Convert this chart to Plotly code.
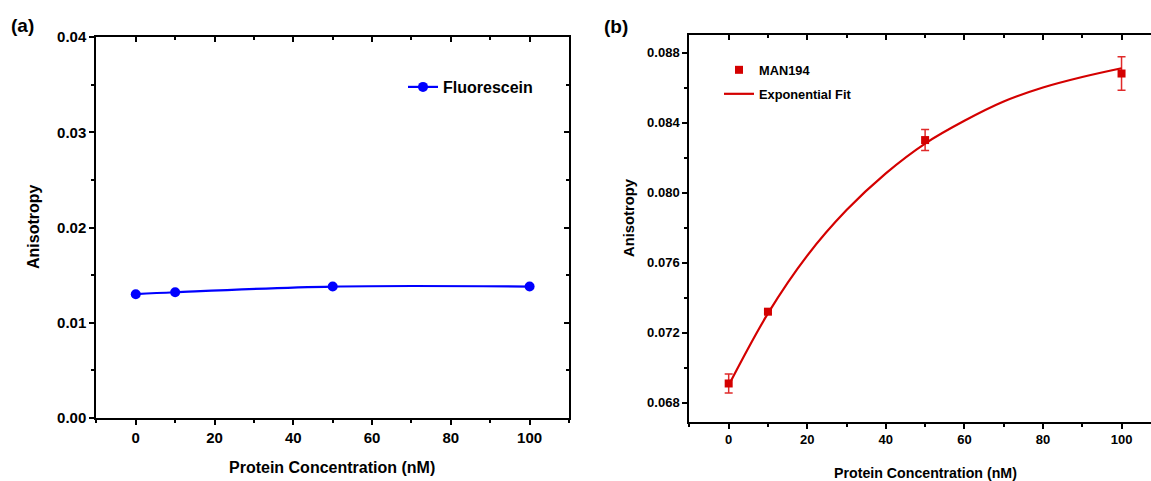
import plotly.graph_objects as go

# Panel (a): fluorescein control
conc_a = [0, 10, 50, 100]
aniso_a = [0.0130, 0.0132, 0.0138, 0.0138]

# Panel (b): MAN194 measurements with error bars
conc_b = [0, 10, 50, 100]
aniso_b = [0.0691, 0.0732, 0.0830, 0.0868]
err_b = [0.00054, 0.00010, 0.00060, 0.00096]

# Panel (b): exponential fit curve
fit_x = [0, 10, 20, 30, 40, 50, 60, 70, 80, 90, 100]
fit_y = [0.0690, 0.0731, 0.0764, 0.0790, 0.0811, 0.0828, 0.0841, 0.0852, 0.0860, 0.0866, 0.0871]

W, H = 1151, 481
FONT = "Liberation Sans, Arial, sans-serif"
BLUE = "#0000FF"
RED = "#D40000"
ERR_RED = "#E02A2A"


def px_x(p):
    return p / W


def px_y(p):
    return 1 - p / H


fig = go.Figure()

fig.add_trace(go.Scatter(
    x=conc_a, y=aniso_a, mode="lines+markers", name="Fluorescein",
    line=dict(color=BLUE, width=2.2, shape="spline", smoothing=1.0),
    marker=dict(color=BLUE, size=10, symbol="circle"),
    xaxis="x", yaxis="y", legend="legend",
))
# overlay axes carry the inward ticks on the top/right edges
fig.add_trace(go.Scatter(x=[], y=[], xaxis="x3", yaxis="y3", showlegend=False, hoverinfo="skip"))

fig.add_trace(go.Scatter(
    x=conc_b, y=aniso_b, mode="markers", name="MAN194",
    marker=dict(color=RED, size=8, symbol="square"),
    error_y=dict(type="data", array=err_b, visible=True, color=ERR_RED, thickness=1.5, width=4),
    xaxis="x2", yaxis="y2", legend="legend2",
))
fig.add_trace(go.Scatter(
    x=fit_x, y=fit_y, mode="lines", name="Exponential Fit",
    line=dict(color=RED, width=2.2, shape="spline", smoothing=1.0),
    xaxis="x2", yaxis="y2", legend="legend3",
))
fig.add_trace(go.Scatter(x=[], y=[], xaxis="x4", yaxis="y2", showlegend=False, hoverinfo="skip"))

tickfont_a = dict(family=FONT, size=15, color="black", weight="bold")
tickfont_b = dict(family=FONT, size=13, color="black", weight="bold")

common = dict(showgrid=False, zeroline=False, linecolor="black", linewidth=1.5,
              tickcolor="black", tickwidth=1.5, ticklen=5, automargin=False)
minor_out = dict(ticks="outside", ticklen=3, tickwidth=1.5, tickcolor="black", showgrid=False)
minor_in = dict(ticks="inside", ticklen=3, tickwidth=1.5, tickcolor="black", showgrid=False)

dom_ax = [px_x(96), px_x(569)]
dom_ay = [px_y(418), px_y(37)]
dom_bx = [px_x(689), 1.0]
dom_by = [px_y(422), px_y(35)]

rng_ax = [-10.1, 110]
rng_ay = [0, 0.04]
rng_bx = [-10.1, 107.5]
rng_by = [0.0669, 0.0890]

fig.update_layout(
    width=W, height=H,
    margin=dict(l=0, r=0, t=0, b=0, pad=0, autoexpand=False),
    paper_bgcolor="white", plot_bgcolor="white",
    font=dict(family=FONT, color="black"),
    xaxis=dict(**common, domain=dom_ax, range=rng_ax, anchor="y", showline=True, mirror=True,
               ticks="outside", tick0=0, dtick=20, tickfont=tickfont_a,
               minor=dict(**minor_out, dtick=10, tick0=0)),
    yaxis=dict(**common, domain=dom_ay, range=rng_ay, anchor="x", showline=True, mirror=True,
               ticks="outside", tick0=0, dtick=0.01, tickformat=".2f", tickfont=tickfont_a,
               minor=dict(**minor_out, dtick=0.005, tick0=0)),
    xaxis3=dict(**common, range=rng_ax, overlaying="x", anchor="y3", side="top", showline=False,
                ticks="inside", tick0=0, dtick=20, showticklabels=False,
                minor=dict(**minor_in, dtick=10, tick0=0)),
    yaxis3=dict(**common, range=rng_ay, overlaying="y", anchor="x3", side="right", showline=False,
                ticks="inside", tick0=0, dtick=0.01, showticklabels=False,
                minor=dict(**minor_in, dtick=0.005, tick0=0)),
    xaxis2=dict(**common, domain=dom_bx, range=rng_bx, anchor="y2", showline=True, mirror=True,
                ticks="outside", tick0=0, dtick=20, tickfont=tickfont_b,
                minor=dict(**minor_out, dtick=10, tick0=0)),
    yaxis2=dict(**common, domain=dom_by, range=rng_by, anchor="x2", showline=True, mirror=False,
                ticks="outside", tick0=0.068, dtick=0.004, tickformat=".3f", tickfont=tickfont_b,
                minor=dict(**minor_out, dtick=0.002, tick0=0.068)),
    xaxis4=dict(**common, range=rng_bx, overlaying="x2", anchor="y2", side="top", showline=False,
                ticks="inside", tick0=0, dtick=20, showticklabels=False,
                minor=dict(**minor_in, dtick=10, tick0=0)),
    legend=dict(x=px_x(403), y=px_y(87), xanchor="left", yanchor="middle",
                bgcolor="rgba(0,0,0,0)", font=dict(family=FONT, size=16, weight="bold")),
    legend2=dict(x=px_x(719), y=px_y(70), xanchor="left", yanchor="middle",
                 bgcolor="rgba(0,0,0,0)", font=dict(family=FONT, size=12.8, weight="bold")),
    legend3=dict(x=px_x(719), y=px_y(94), xanchor="left", yanchor="middle",
                 bgcolor="rgba(0,0,0,0)", font=dict(family=FONT, size=12.8, weight="bold")),
    showlegend=True,
)

ann = [
    dict(text="(a)", x=px_x(22), y=px_y(25.5), font=dict(size=19, weight="bold")),
    dict(text="(b)", x=px_x(616), y=px_y(26.5), font=dict(size=19, weight="bold")),
    dict(text="Protein Concentration (nM)", x=px_x(332), y=px_y(467), font=dict(size=16, weight="bold")),
    dict(text="Protein Concentration (nM)", x=px_x(925.5), y=px_y(473), font=dict(size=14.2, weight="bold")),
    dict(text="Anisotropy", x=px_x(33), y=px_y(227), textangle=-90, font=dict(size=16, weight="bold")),
    dict(text="Anisotropy", x=px_x(629), y=px_y(218), textangle=-90, font=dict(size=14.8, weight="bold")),
]
for a in ann:
    a["font"]["family"] = FONT
    a["font"]["color"] = "black"
    fig.add_annotation(xref="paper", yref="paper", xanchor="center", yanchor="middle",
                       showarrow=False, **a)

fig.write_html("out.html")
